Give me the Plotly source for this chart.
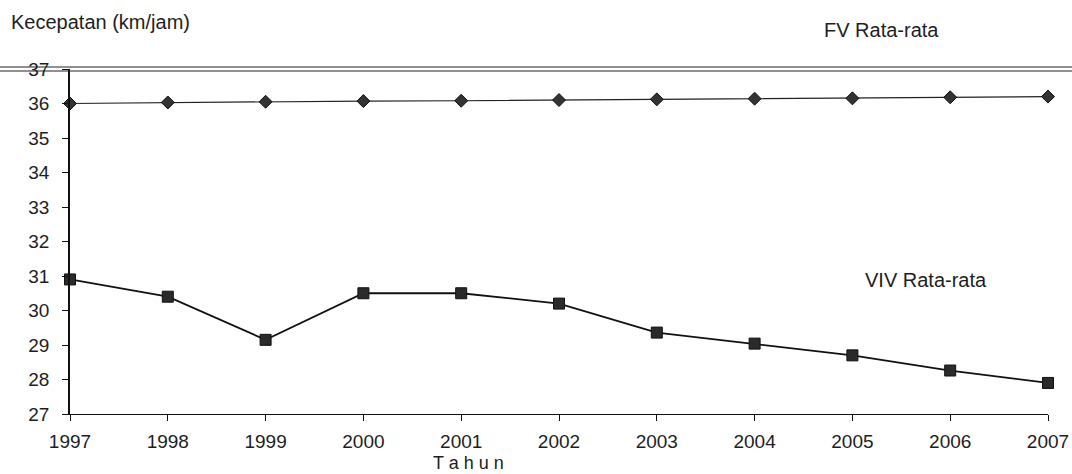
import plotly.graph_objects as go

# Average speeds per year (km/jam)
tahun = [1997, 1998, 1999, 2000, 2001, 2002, 2003, 2004, 2005, 2006, 2007]
fv_rata = [36.0, 36.03, 36.05, 36.07, 36.08, 36.1, 36.12, 36.14, 36.15, 36.18, 36.2]
viv_rata = [30.9, 30.4, 29.15, 30.5, 30.5, 30.2, 29.36, 29.04, 28.7, 28.26, 27.9]
y_ticks = list(range(27, 38))

W, H = 1072, 474
L, R, T, B = 70, 24, 69, 60
plot_w = W - L - R
plot_h = H - T - B

FAMILY = "Liberation Sans, Arial, sans-serif"
INK = "#1e1e1e"

fig = go.Figure()

fig.add_trace(go.Scatter(
    x=tahun, y=fv_rata, mode="lines+markers", name="FV Rata-rata",
    line=dict(color="#222222", width=1.2),
    marker=dict(symbol="diamond", size=10, color="#333333",
                line=dict(color="#111111", width=1)),
    cliponaxis=False,
))
fig.add_trace(go.Scatter(
    x=tahun, y=viv_rata, mode="lines+markers", name="VIV Rata-rata",
    line=dict(color="#111111", width=1.8),
    marker=dict(symbol="square", size=11, color="#2a2a2a",
                line=dict(color="#111111", width=1)),
    cliponaxis=False,
))

tick_font = dict(family=FAMILY, size=19, color=INK)

fig.update_layout(
    width=W, height=H,
    margin=dict(l=L, r=R, t=T, b=B, autoexpand=False),
    paper_bgcolor="white", plot_bgcolor="white",
    showlegend=False,
    font=dict(family=FAMILY, size=19, color=INK),
    xaxis=dict(
        range=[1997, 2007], tickmode="array", tickvals=tahun,
        ticktext=[str(t) for t in tahun],
        showgrid=False, zeroline=False, automargin=False,
        showline=True, linecolor="#111111", linewidth=1.2,
        ticks="outside", ticklen=6, tickcolor="#111111",
        tickfont=tick_font, ticklabelstandoff=4,
    ),
    yaxis=dict(
        range=[27, 37], tickmode="array", tickvals=y_ticks,
        showgrid=False, zeroline=False, automargin=False,
        showline=True, linecolor="#111111", linewidth=1.5,
        ticks="outside", ticklen=6, tickcolor="#111111",
        tickfont=tick_font, ticklabelstandoff=9,
    ),
)

# Double rule across the top of the chart
for dy in (2, -2):
    fig.add_shape(type="line", xref="paper", yref="paper",
                  x0=-L / plot_w, x1=1 + R / plot_w,
                  y0=1 + dy / plot_h, y1=1 + dy / plot_h,
                  line=dict(color="#222222", width=1.2))

label_font = dict(family=FAMILY, size=20, color=INK)

fig.add_annotation(text="Kecepatan (km/jam)", xref="paper", yref="paper",
                   x=-61 / plot_w, y=1 + 47 / plot_h,
                   xanchor="left", yanchor="middle", showarrow=False,
                   font=label_font)
fig.add_annotation(text="FV Rata-rata", xref="paper", yref="paper",
                   x=(822 - L) / plot_w, y=1 + 39 / plot_h,
                   xanchor="left", yanchor="middle", showarrow=False,
                   font=label_font)
fig.add_annotation(text="VIV Rata-rata", xref="paper", yref="paper",
                   x=(863 - L) / plot_w, y=1 - (280 - T) / plot_h,
                   xanchor="left", yanchor="middle", showarrow=False,
                   font=label_font)
fig.add_annotation(text="T a h u n", xref="paper", yref="paper",
                   x=(468 - L) / plot_w, y=-(463 - T - plot_h) / plot_h,
                   xanchor="center", yanchor="middle", showarrow=False,
                   font=dict(family=FAMILY, size=18, color=INK))

fig.write_html("out.html")
